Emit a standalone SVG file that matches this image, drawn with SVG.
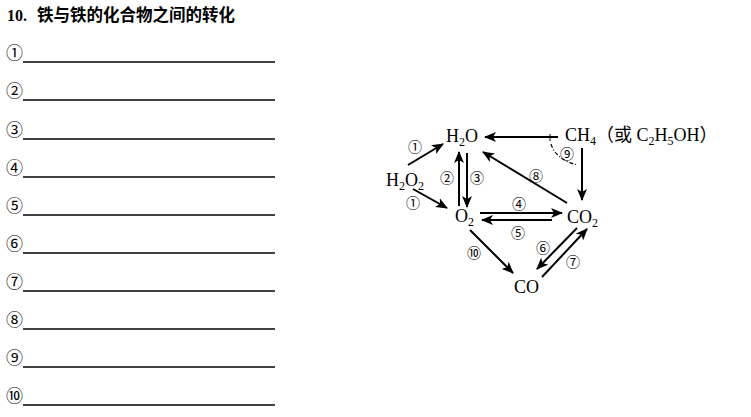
<svg xmlns="http://www.w3.org/2000/svg" width="751" height="417" viewBox="0 0 751 417">
<style>
.num{font-family:"Noto Sans CJK SC","DejaVu Sans",sans-serif;font-size:17px;fill:#000}
.blank{stroke:#000;stroke-width:1.3}
.chem{font-family:"Liberation Serif","Noto Sans CJK SC",serif;font-size:18px;fill:#000}
.sub{font-size:12px}
.lab{font-family:"Noto Sans CJK SC","DejaVu Sans",sans-serif;font-size:14px;fill:#000}
.arr{stroke:#000;stroke-width:2;fill:none;marker-end:url(#ah)}
</style>
<defs>
<marker id="ah" markerUnits="userSpaceOnUse" markerWidth="12" markerHeight="10" refX="11" refY="5" orient="auto">
<path d="M0,0 L12,5 L0,10 L3,5 z" fill="#000"/>
</marker>
</defs>
<rect width="751" height="417" fill="#fff"/>
<g id="title">
<text x="7" y="21" font-family="Liberation Serif,serif" font-weight="bold" font-size="16">10.</text>
<text x="37" y="21" font-family="Noto Sans CJK SC,sans-serif" font-weight="bold" font-size="16.5">铁与铁的化合物之间的转化</text>
</g>
<g id="blanks">
<text class="num" x="6" y="59">①</text><line class="blank" x1="23" y1="62" x2="275" y2="62"/>
<text class="num" x="6" y="97">②</text><line class="blank" x1="23" y1="100" x2="275" y2="100"/>
<text class="num" x="6" y="136">③</text><line class="blank" x1="23" y1="139" x2="275" y2="139"/>
<text class="num" x="6" y="174">④</text><line class="blank" x1="23" y1="177" x2="275" y2="177"/>
<text class="num" x="6" y="212">⑤</text><line class="blank" x1="23" y1="215" x2="275" y2="215"/>
<text class="num" x="6" y="250">⑥</text><line class="blank" x1="23" y1="253" x2="275" y2="253"/>
<text class="num" x="6" y="288">⑦</text><line class="blank" x1="23" y1="291" x2="275" y2="291"/>
<text class="num" x="6" y="326">⑧</text><line class="blank" x1="23" y1="329" x2="275" y2="329"/>
<text class="num" x="6" y="364">⑨</text><line class="blank" x1="23" y1="367" x2="275" y2="367"/>
<text class="num" x="6" y="402">⑩</text><line class="blank" x1="23" y1="405" x2="275" y2="405"/>
</g>
<g id="n-h2o"><text class="chem" x="446" y="142">H<tspan class="sub" dy="4">2</tspan><tspan dy="-4">O</tspan></text></g>
<g id="n-ch4"><text class="chem" x="565" y="141">CH<tspan class="sub" dy="4">4</tspan><tspan dy="-4">（或 C</tspan><tspan class="sub" dy="4">2</tspan><tspan dy="-4">H</tspan><tspan class="sub" dy="4">5</tspan><tspan dy="-4">OH）</tspan></text></g>
<g id="n-h2o2"><text class="chem" x="386" y="186">H<tspan class="sub" dy="4">2</tspan><tspan dy="-4">O</tspan><tspan class="sub" dy="4">2</tspan></text></g>
<g id="n-o2"><text class="chem" x="455" y="222">O<tspan class="sub" dy="4">2</tspan></text></g>
<g id="n-co2"><text class="chem" x="567" y="223">CO<tspan class="sub" dy="4">2</tspan></text></g>
<g id="n-co"><text class="chem" x="514" y="293">CO</text></g>
<g id="connectors">
<line class="arr" x1="408" y1="165" x2="443" y2="144"/>
<line class="arr" x1="413" y1="189" x2="447" y2="208"/>
<line class="arr" x1="459" y1="206" x2="459" y2="152"/>
<line class="arr" x1="467" y1="153" x2="467" y2="207"/>
<line class="arr" x1="480" y1="213" x2="562" y2="213"/>
<line class="arr" x1="552" y1="220" x2="482" y2="220"/>
<line class="arr" x1="470" y1="230" x2="513" y2="273"/>
<line class="arr" x1="577" y1="228" x2="537" y2="269"/>
<line class="arr" x1="542" y1="277" x2="587" y2="229"/>
<line class="arr" x1="567" y1="203" x2="483" y2="152"/>
<line class="arr" x1="558" y1="137" x2="485" y2="137"/>
<line class="arr" x1="582" y1="148" x2="582" y2="200"/>
<line x1="550" y1="134" x2="550" y2="141" stroke="#000" stroke-width="1"/>
<path d="M551,144 Q556,160 578,165" fill="none" stroke="#000" stroke-width="1.2" stroke-dasharray="4,2,1,2"/>
</g>
<g id="labels">
<text class="lab" x="415" y="152" text-anchor="middle">①</text>
<text class="lab" x="413" y="208" text-anchor="middle">①</text>
<text class="lab" x="447" y="183" text-anchor="middle">②</text>
<text class="lab" x="477" y="183" text-anchor="middle">③</text>
<text class="lab" x="519" y="209" text-anchor="middle">④</text>
<text class="lab" x="518" y="238" text-anchor="middle">⑤</text>
<text class="lab" x="543" y="253" text-anchor="middle">⑥</text>
<text class="lab" x="573" y="267" text-anchor="middle">⑦</text>
<text class="lab" x="536" y="181" text-anchor="middle">⑧</text>
<text class="lab" x="567" y="159" text-anchor="middle">⑨</text>
<text class="lab" x="474" y="258" text-anchor="middle">⑩</text>
</g>
</svg>
